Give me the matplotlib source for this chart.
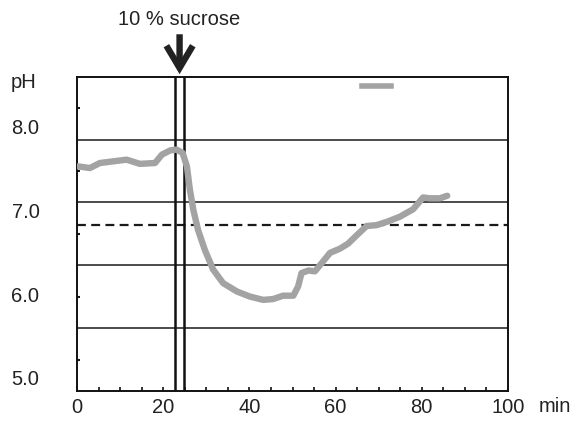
import numpy as np
import matplotlib
matplotlib.use("Agg")
import matplotlib.pyplot as plt
from matplotlib.lines import Line2D

plt.rcParams['font.family'] = ['Liberation Sans', 'DejaVu Sans']

# Data
time_min = [0.3, 3.0, 5.3, 8.4, 11.5, 14.6, 18.1, 19.7, 21.6, 23.1, 24.5, 25.5,
            26.2, 27.0, 28.1, 29.7, 31.6, 33.9, 37.1, 40.1, 43.2, 45.5, 47.8,
            50.2, 51.3, 52.1, 53.7, 55.2, 56.8, 58.7, 61.0, 62.9, 64.9, 67.2,
            69.5, 71.9, 74.9, 78.0, 80.3, 81.9, 84.2, 85.9]
ph_values = [7.52, 7.50, 7.56, 7.58, 7.60, 7.55, 7.56, 7.66, 7.71, 7.72, 7.68, 7.52,
             7.24, 7.00, 6.76, 6.52, 6.29, 6.13, 6.03, 5.97, 5.93, 5.94, 5.98,
             5.98, 6.09, 6.25, 6.28, 6.27, 6.37, 6.49, 6.54, 6.60, 6.70, 6.81,
             6.82, 6.86, 6.92, 7.01, 7.15, 7.14, 7.14, 7.17]
x_ticks = [0, 20, 40, 60, 80, 100]
x_ticklabels = ['0', '20', '40', '60', '80', '100']
y_ticks = [5.0, 6.0, 7.0, 8.0]
y_ticklabels = ['5.0', '6.0', '7.0', '8.0']
reference_ph = 6.82
sucrose_lines = [22.7, 24.9]
sucrose_arrow_x = 23.8
x_range = (0, 100)
y_range = (4.845, 8.588)

FS = 14.5
W, H = 571, 425
fig = plt.figure(figsize=(W / 100, H / 100), dpi=100)
ax = fig.add_axes([77 / W, 1 - 391 / H, (508 - 77) / W, (391 - 76.7) / H])

ax.set_xlim(*x_range)
ax.set_ylim(*y_range)

# horizontal grid: 5 equal bands of the frame
grid_y = np.linspace(y_range[0], y_range[1], 6)
for gy in grid_y[1:-1]:
    ax.axhline(gy, color='#1a1a1a', lw=1.1, zorder=1)
ax.set_yticks((grid_y[:-1] + grid_y[1:]) / 2, minor=True)
ax.tick_params(axis='y', which='minor', direction='in', length=2, width=1.5,
               color='#1a1a1a', left=True, right=False)

ax.axhline(reference_ph, color='#1a1a1a', lw=1.6, ls=(0, (4, 2.4)), zorder=1)

for vx in sucrose_lines:
    ax.axvline(vx, color='#111111', lw=1.8, zorder=2)

ax.plot(time_min, ph_values, color='#a3a3a3', lw=4.6, solid_capstyle='round',
        solid_joinstyle='round', zorder=3)

for s in ax.spines.values():
    s.set_linewidth(1.4)
    s.set_color('#111111')

ax.set_xticks(x_ticks)
ax.set_xticklabels(x_ticklabels)
ax.set_xticks(np.arange(5, 100, 5), minor=True)
ax.tick_params(axis='x', which='both', direction='in', length=3, width=1.2,
               color='#111111', labelsize=FS, pad=5, top=False)
ax.set_yticks(y_ticks)
ax.set_yticklabels(y_ticklabels)
ax.tick_params(axis='y', which='major', length=0, labelsize=FS, pad=27)
for lbl in ax.get_xticklabels() + ax.get_yticklabels():
    lbl.set_color('#222222')

fig.text(24 / W, 1 - 83 / H, 'pH', fontsize=FS, ha='center', va='center', color='#222222')
fig.text(555 / W, 1 - 406 / H, 'min', fontsize=FS, ha='center', va='center', color='#222222')

# arrow + label
ax.annotate('', xy=(sucrose_arrow_x, 1.008), xycoords=('data', 'axes fraction'),
            xytext=(sucrose_arrow_x, 1.135), textcoords=('data', 'axes fraction'),
            arrowprops=dict(arrowstyle='->,head_length=1.6,head_width=0.95',
                            lw=4.6, color='#222222', shrinkA=0, shrinkB=0,
                            joinstyle='miter', capstyle='butt'),
            annotation_clip=False)
ax.text(sucrose_arrow_x, (391 - 19) / (391 - 76.7), '10 % sucrose',
        transform=ax.get_xaxis_transform(),
        fontsize=FS, ha='center', va='center', color='#222222', clip_on=False)

handle = Line2D([], [], color='#a3a3a3', lw=4.0)
ax.legend(handles=[handle], labels=[''], loc='center', bbox_to_anchor=(0.694, 0.964),
          frameon=False, handlelength=1.45, handletextpad=0, borderpad=0,
          borderaxespad=0, fontsize=FS)

fig.savefig('out.png', dpi=100)
